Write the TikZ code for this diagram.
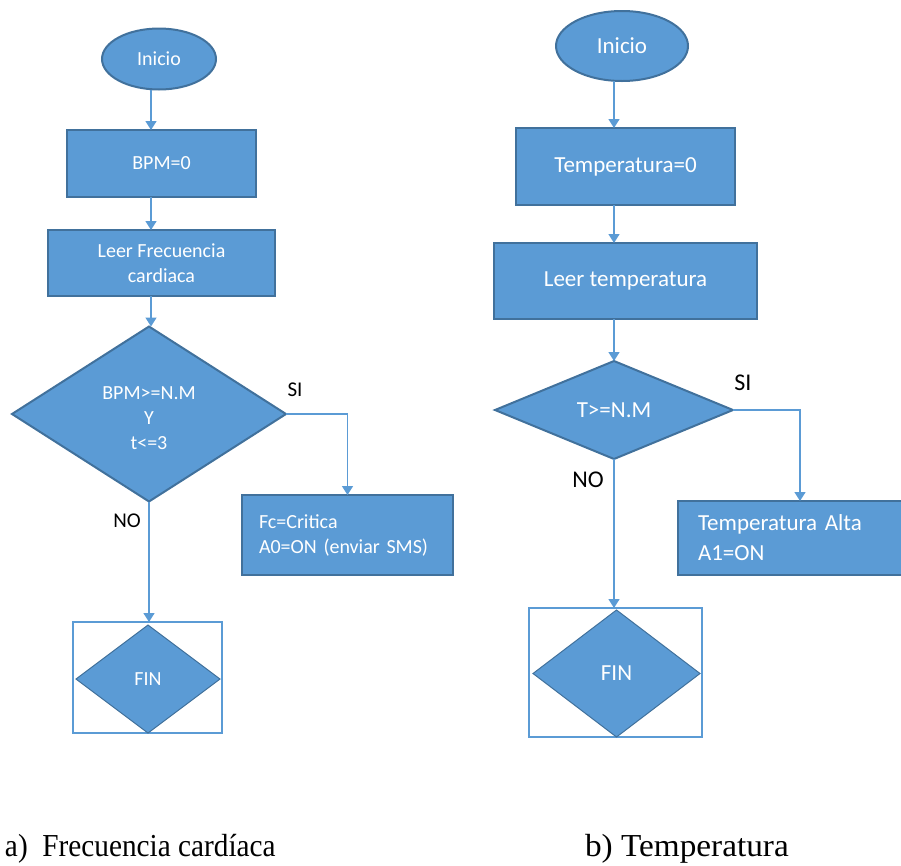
\documentclass[tikz,border=0pt]{standalone}
\usepackage{fontspec}
\setmainfont{Liberation Serif}
\newfontfamily\calibri{Carlito}
\usetikzlibrary{shapes.geometric,arrows.meta}
\definecolor{boxblue}{HTML}{5B9BD5}
\definecolor{edgeblue}{HTML}{41719C}

\begin{document}
\begin{tikzpicture}[x=1pt,y=-1pt,
  every node/.style={inner sep=0pt, outer sep=0pt},
  blk/.style={draw=edgeblue, line width=2pt, fill=boxblue, text=white},
  finframe/.style={draw=boxblue, line width=2pt},
  arr/.style={draw=boxblue, line width=1.5pt, -{Triangle[width=11pt,length=9pt]}},
  lfont/.style={font=\calibri\fontsize{20}{25}\selectfont},
  rfont/.style={font=\calibri\fontsize{23}{30}\selectfont},
  llab/.style={font=\calibri\fontsize{21}{25}\selectfont, text=black},
  rlab/.style={font=\calibri\fontsize{24}{29}\selectfont, text=black},
  caption/.style={anchor=base west, font=\fontsize{32}{38}\selectfont, text=black, transform shape}
]
\clip (0,0) rectangle (901,865);

% ---------- a) heart rate ----------
\coordinate (colA) at (151,0);
\node[blk, ellipse, lfont, minimum width=114pt, minimum height=61pt] (iniA) at (159,59) {Inicio};
\node[blk, lfont, minimum width=189pt, minimum height=67pt] (bpm) at (161.5,163.5) {BPM=0};
\node[blk, lfont, minimum width=227pt, minimum height=66pt, align=center] (leerA) at (161.5,263) {Leer Frecuencia\\cardiaca};
\node[blk, diamond, lfont, minimum width=274pt, minimum height=175pt] (decA) at (149,414)
  {\raisebox{-11pt}[0pt][0pt]{\begin{tabular}{@{}c@{}}BPM>=N.M\\Y\\t<=3\end{tabular}}};
\node[blk, lfont, minimum height=80pt, text width=177pt, inner xsep=17pt, align=left] (fc) at (347.5,535) {Fc=Critica\\A0=ON (enviar SMS)};
\node[finframe, minimum width=149pt, minimum height=111pt] (finboxA) at (147.5,677.5) {};
\node[blk, diamond, line width=1pt, lfont, minimum width=144pt, minimum height=108pt] (finA) at (148,679) {FIN};

\draw[arr] (colA |- iniA.south) -- (colA |- bpm.north);
\draw[arr] (colA |- bpm.south) -- (colA |- leerA.north);
\draw[arr] (colA |- leerA.south) -- (colA |- decA.north);
\draw[arr] (decA.east) -| (fc.north);
\draw[arr] (decA.south) -- (decA.south |- finboxA.north);

\node[llab] (siA) at (295,390) {SI};
\node[llab] (noA) at (127,521) {NO};

% ---------- b) temperature ----------
\coordinate (colB) at (614,0);
\node[blk, ellipse, rfont, minimum width=132pt, minimum height=70pt] (iniB) at (622,46) {Inicio};
\node[blk, rfont, minimum width=219pt, minimum height=77pt] (tmp) at (625.5,166.5) {Temperatura=0};
\node[blk, rfont, minimum width=263pt, minimum height=76pt] (leerB) at (625.5,281) {Leer temperatura};
\node[blk, diamond, rfont, minimum width=238pt, minimum height=98pt] (decB) at (614,410) {T>=N.M};
\node[blk, rfont, minimum height=74pt, text width=187pt, inner xsep=20pt, align=left] (alta) at (791.5,538) {Temperatura Alta\\A1=ON};
\node[finframe, minimum width=173pt, minimum height=129pt] (finboxB) at (615.5,672.5) {};
\node[blk, diamond, line width=1pt, rfont, minimum width=167pt, minimum height=127pt] (finB) at (616.5,673.5) {FIN};

\draw[arr] (colB |- iniB.south) -- (colB |- tmp.north);
\draw[arr] (colB |- tmp.south) -- (colB |- leerB.north);
\draw[arr] (colB |- leerB.south) -- (decB.north);
\draw[arr] (decB.east) -| (800,0 |- alta.north);
\draw[arr] (decB.south) -- (decB.south |- finboxB.north);

\node[rlab] (siB) at (743,383) {SI};
\node[rlab] (noB) at (588,480) {NO};

% ---------- captions ----------
\node[caption, xscale=0.915] (capA) at (5,856) {a)\hspace{16pt}Frecuencia cardíaca};
\node[caption, xscale=1.04] (capB) at (585,856) {b) Temperatura};
\end{tikzpicture}
\end{document}
